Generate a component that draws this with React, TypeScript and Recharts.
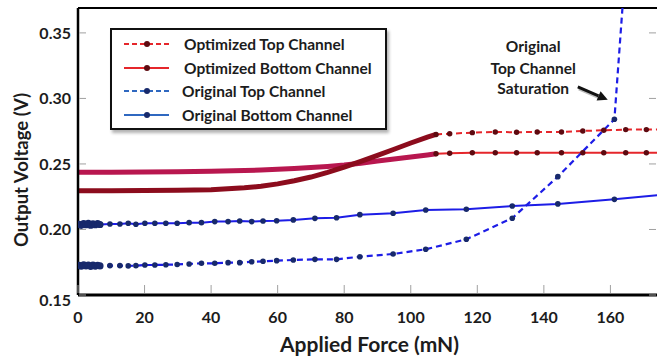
import React from 'react';
import {
  LineChart,
  Line,
  XAxis,
  YAxis,
  Legend,
  ReferenceLine,
  ReferenceDot,
} from 'recharts';

// ---- data -------------------------------------------------------------
// Optimized channels: densely sampled region (0 - 107.6 mN)
const optDenseForce = [0, 10, 20, 30, 40, 50, 55, 60, 65, 70, 75, 80, 85, 90, 95, 100, 105, 107.6];
const optTopDense = [0.2296, 0.2295, 0.2298, 0.23, 0.2304, 0.2318, 0.233, 0.2348, 0.2372, 0.24, 0.2435, 0.2475, 0.252, 0.2565, 0.2612, 0.266, 0.2705, 0.2725];
const optBottomDense = [0.2437, 0.2437, 0.2439, 0.2441, 0.2444, 0.245, 0.2454, 0.2459, 0.2465, 0.2472, 0.2481, 0.2492, 0.2506, 0.2522, 0.2537, 0.2553, 0.2569, 0.2578];

// Optimized channels: sparse samples above 107.6 mN
const optSparseForce = [107.6, 111.7, 118.5, 125.4, 131.8, 138, 145.3, 151.7, 158, 164.6, 170.8, 177];
const optTopSparse = [0.2725, 0.2731, 0.2739, 0.2744, 0.2742, 0.2744, 0.2744, 0.2752, 0.2757, 0.2762, 0.2762, 0.2764];
const optBottomSparse = [0.2578, 0.2582, 0.2585, 0.2586, 0.2586, 0.2586, 0.2586, 0.2586, 0.2586, 0.2586, 0.2586, 0.2586];

// Original channels
const origForce = [
  0.3, 1.0, 1.7, 2.4, 3.1, 3.8, 4.5, 5.2, 5.9, 6.6,
  9.6, 12.6, 15.1, 17.4, 20.1, 23.1, 26.4, 29.8, 33.4, 37.1,
  41.1, 45.1, 48.6, 52.2, 55.6, 59.7, 64.7, 71.2, 77.7, 84.7,
  94.7, 104.5, 116.7, 130.5, 144.2, 161.2,
];
const origTop = [
  0.1727, 0.172, 0.173, 0.1722, 0.1729, 0.1719, 0.1728, 0.1721, 0.1727, 0.1722,
  0.1724, 0.1724, 0.1722, 0.1724, 0.1729, 0.1729, 0.1731, 0.1733, 0.1737, 0.1742,
  0.1742, 0.1747, 0.1747, 0.1754, 0.1757, 0.1762, 0.1767, 0.1772, 0.1772, 0.1792,
  0.1813, 0.1849, 0.1925, 0.2086, 0.2403, 0.2841,
];
const origBottom = [
  0.204, 0.2032, 0.2045, 0.2036, 0.2046, 0.2033, 0.2043, 0.2036, 0.2045, 0.2038,
  0.2042, 0.2042, 0.2047, 0.204, 0.2047, 0.2047, 0.2047, 0.2047, 0.2052, 0.2052,
  0.206, 0.206, 0.2065, 0.206, 0.2065, 0.2067, 0.2073, 0.2085, 0.2089, 0.2113,
  0.2124, 0.2149, 0.2154, 0.2179, 0.2195, 0.223,
];
// saturated reading beyond the top of the plot, and trailing reading past the right edge
const origTopSaturation = { force: 164.5, v: 0.4 };
const origBottomTail = { force: 180, v: 0.2275 };
// the first readings (0 - 7 mN) are closely packed
const denseCount = 10;

const xTicks = [0, 20, 40, 60, 80, 100, 120, 140, 160];
const yTicks = [0.15, 0.2, 0.25, 0.3, 0.35];
const xDomain: [number, number] = [0, 174];
const yDomain: [number, number] = [0.15, 0.369];

const legendLabels = [
  'Optimized Top Channel',
  'Optimized Bottom Channel',
  'Original Top Channel',
  'Original Bottom Channel',
];
const annotationLines = ['Original', 'Top Channel', 'Saturation'];

// ---- helpers ----------------------------------------------------------
const zip = (xs: number[], ys: number[]) => xs.map((force, i) => ({ force, v: ys[i] }));

const optTopDenseData = zip(optDenseForce, optTopDense);
const optBottomDenseData = zip(optDenseForce, optBottomDense);
const optTopSparseData = zip(optSparseForce, optTopSparse);
const optBottomSparseData = zip(optSparseForce, optBottomSparse);
const origTopData = [...zip(origForce, origTop), origTopSaturation];
const origBottomData = [...zip(origForce, origBottom), origBottomTail];

const FONT = 'Lato, "Open Sans", sans-serif';
const TEXT = '#1c1c1c';

const RED = '#e5262b';
const RED_DOT = '#5e0a10';
const DARK_RED = '#8c0c1d';
const CRIMSON = '#b8174f';
const BLUE = '#1d1de6';
const NAVY = '#17296b';
const LEGEND_BLUE = '#2f68c0';

const XTick = (props: any) => {
  const { x, y, payload } = props;
  return (
    <g>
      <line x1={x} x2={x} y1={y - 2} y2={y - 10} stroke="#a0a0a0" strokeWidth={1} />
      <text x={x} y={y + 28} textAnchor="middle" fontFamily={FONT} fontWeight={700} fontSize={16} fill={TEXT}>
        {payload.value}
      </text>
    </g>
  );
};

const YTick = (props: any) => {
  const { x, y, payload } = props;
  const low = payload.value < 0.16;
  return (
    <g>
      <line x1={x + 1} x2={x + 8} y1={y} y2={y} stroke="#a0a0a0" strokeWidth={1} />
      <text x={x - 7} y={y + (low ? 11 : 6)} textAnchor="end" fontFamily={FONT} fontWeight={700} fontSize={16} fill={TEXT}>
        {Number(payload.value).toFixed(2)}
      </text>
    </g>
  );
};

const RightTick = (props: any) => {
  const { x, y } = props;
  return <line x1={x - 1} x2={x - 8} y1={y} y2={y} stroke="#a0a0a0" strokeWidth={1} />;
};

const XTitle = (props: any) => {
  const vb = props.viewBox;
  return (
    <text x={vb.x + vb.width / 2 + 2} y={vb.y + 57} textAnchor="middle" fontFamily={FONT} fontWeight={700} fontSize={21} fill={TEXT}>
      Applied Force (mN)
    </text>
  );
};

const YTitle = () => (
  <text
    x={0}
    y={0}
    transform="translate(28 170) rotate(-90)"
    textAnchor="middle"
    fontFamily={FONT}
    fontWeight={700}
    fontSize={18.5}
    fill={TEXT}
  >
    Output Voltage (V)
  </text>
);

const AnnotationText = (props: any) => {
  const { cx, cy } = props;
  const offsets = [-21.6, 0, 20];
  return (
    <g>
      {annotationLines.map((t, i) => (
        <text
          key={t}
          x={cx}
          y={cy + offsets[i] + 5.5}
          textAnchor="middle"
          fontFamily={FONT}
          fontWeight={700}
          fontSize={15.5}
          fill={TEXT}
        >
          {t}
        </text>
      ))}
    </g>
  );
};

const Arrow = (props: any) => {
  const { x1, y1, x2, y2 } = props;
  const dx = x2 - x1;
  const dy = y2 - y1;
  const len = Math.sqrt(dx * dx + dy * dy);
  const ux = dx / len;
  const uy = dy / len;
  const head = 10;
  const bx = x2 - ux * head;
  const by = y2 - uy * head;
  const px = -uy * 5;
  const py = ux * 5;
  return (
    <g>
      <line x1={x1 + 1} y1={y1 + 2} x2={bx + 1} y2={by + 2} stroke="#bdbdbd" strokeWidth={3} />
      <line x1={x1} y1={y1} x2={bx} y2={by} stroke="#111" strokeWidth={3} />
      <polygon points={`${x2},${y2} ${bx + px},${by + py} ${bx - px},${by - py}`} fill="#111" />
    </g>
  );
};

const legendStyles = [
  { color: RED, dot: RED_DOT, dash: true, gap: 14 },
  { color: RED, dot: RED_DOT, dash: false, gap: 14 },
  { color: LEGEND_BLUE, dot: NAVY, dash: true, gap: 12 },
  { color: LEGEND_BLUE, dot: NAVY, dash: false, gap: 12 },
];

const renderLegend = () => (
  <div
    style={{
      width: 277,
      height: 102,
      boxSizing: 'border-box',
      border: '2px solid #111',
      background: '#fff',
      boxShadow: '2px 3px 3px rgba(0,0,0,0.3)',
      padding: '2px 0 0 11px',
      fontFamily: FONT,
      fontWeight: 700,
      fontSize: 15.5,
      color: TEXT,
    }}
  >
    {legendLabels.map((label, i) => {
      const s = legendStyles[i];
      return (
        <div key={label} style={{ display: 'flex', alignItems: 'center', height: 23.7 }}>
          <svg width={47} height={10} style={{ flex: 'none' }}>
            <line
              x1={1}
              x2={46}
              y1={5}
              y2={5}
              stroke={s.color}
              strokeWidth={2}
              strokeDasharray={s.dash ? '5 3' : undefined}
            />
            <circle cx={24} cy={5} r={3} fill={s.dot} />
          </svg>
          <span style={{ marginLeft: s.gap, whiteSpace: 'nowrap' }}>{label}</span>
        </div>
      );
    })}
  </div>
);

// marker: closely packed early readings drawn slightly larger so they merge into a blob
const OrigDot = (props: any) => {
  const { cx, cy, index } = props;
  if (cx == null || cy == null) return null;
  const r = index < denseCount ? 3.6 : 2.8;
  return <circle cx={cx} cy={cy} r={r} fill={NAVY} />;
};

const dotStyle = (fill: string, r: number) => ({ r, fill, stroke: 'none', strokeWidth: 0 });

export default function App() {
  return (
    <div style={{ position: 'absolute', left: 0, top: 0, width: 659, height: 358, background: '#fff' }}>
      <LineChart width={659} height={358} margin={{ top: 8, right: 0, bottom: 13, left: 18 }}>
        <XAxis
          type="number"
          dataKey="force"
          domain={xDomain}
          allowDataOverflow
          ticks={xTicks}
          tick={<XTick />}
          tickLine={false}
          tickSize={0}
          tickMargin={0}
          height={50}
          axisLine={{ stroke: '#000', strokeWidth: 3 }}
          label={<XTitle />}
        />
        <YAxis
          yAxisId="left"
          type="number"
          dataKey="v"
          domain={yDomain}
          allowDataOverflow
          ticks={yTicks}
          tick={<YTick />}
          tickLine={false}
          tickSize={0}
          tickMargin={0}
          width={60}
          axisLine={{ stroke: '#000', strokeWidth: 2.5 }}
          label={<YTitle />}
        />
        <YAxis
          yAxisId="right"
          orientation="right"
          type="number"
          domain={yDomain}
          allowDataOverflow
          ticks={yTicks}
          tick={<RightTick />}
          tickLine={false}
          tickSize={0}
          tickMargin={0}
          width={2}
          axisLine={false}
        />

        <ReferenceLine yAxisId="left" y={yDomain[1]} stroke="#000" strokeWidth={2} />

        {/* optimized channels, dense region */}
        <Line
          yAxisId="left"
          data={optBottomDenseData}
          dataKey="v"
          stroke={CRIMSON}
          strokeWidth={5}
          dot={false}
          isAnimationActive={false}
        />
        <Line
          yAxisId="left"
          data={optTopDenseData}
          dataKey="v"
          stroke={DARK_RED}
          strokeWidth={5}
          dot={false}
          isAnimationActive={false}
        />

        {/* optimized channels, sparse region */}
        <Line
          yAxisId="left"
          data={optBottomSparseData}
          dataKey="v"
          stroke={RED}
          strokeWidth={2}
          dot={dotStyle(RED_DOT, 2.7)}
          isAnimationActive={false}
        />
        <Line
          yAxisId="left"
          data={optTopSparseData}
          dataKey="v"
          stroke={RED}
          strokeWidth={2}
          strokeDasharray="6 4"
          dot={dotStyle(RED_DOT, 2.7)}
          isAnimationActive={false}
        />

        {/* original channels */}
        <Line
          yAxisId="left"
          data={origBottomData}
          dataKey="v"
          stroke={BLUE}
          strokeWidth={2}
          dot={<OrigDot />}
          isAnimationActive={false}
        />
        <Line
          yAxisId="left"
          data={origTopData}
          dataKey="v"
          stroke={BLUE}
          strokeWidth={2.2}
          strokeDasharray="6 4"
          dot={<OrigDot />}
          isAnimationActive={false}
        />

        <ReferenceDot yAxisId="left" x={136.8} y={0.3231} r={0} shape={<AnnotationText />} />
        <ReferenceLine
          yAxisId="left"
          segment={[
            { x: 150.2, y: 0.3088 },
            { x: 159.2, y: 0.2989 },
          ]}
          shape={<Arrow />}
        />

        <Legend
          layout="vertical"
          align="center"
          verticalAlign="middle"
          wrapperStyle={{ left: 110, top: 28, width: 277, height: 102 }}
          content={renderLegend}
        />
      </LineChart>
    </div>
  );
}
